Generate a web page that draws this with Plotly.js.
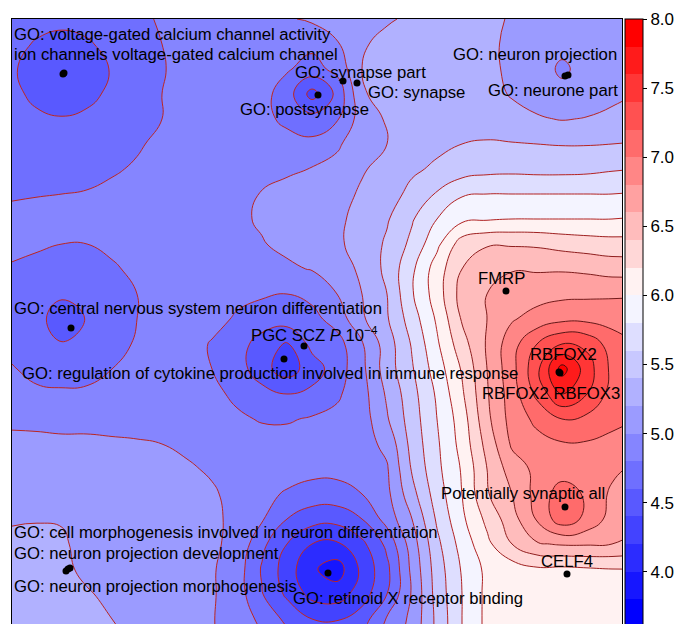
<!DOCTYPE html>
<html><head><meta charset="utf-8">
<script src="https://cdn.plot.ly/plotly-3.0.1.min.js"></script>
<style>html,body{margin:0;padding:0;overflow:hidden;background:#fff}#chart{width:680px;height:629px}</style>
</head><body><div id="chart"></div>
<script>
// Grid sample positions (embedding coordinates)
const gridX = [12,37,62,87,112,137,162,187,212,237,262,287,312,337,362,387,412,437,462,487,512,537,562,587,612,637];
const gridY = [19,44,69,94,119,144,169,194,219,244,269,294,319,344,369,394,419,444,469,494,519,544,569,594,619,644];

// Surface values (one row per gridY)
const zGrid = [
 [4.72,4.67,4.64,4.66,4.70,4.76,4.82,4.87,4.90,4.92,4.95,4.98,5.03,5.10,5.15,5.18,5.23,5.27,5.30,5.25,5.18,5.13,5.10,5.12,5.17,5.22],
 [4.66,4.58,4.55,4.58,4.65,4.72,4.80,4.85,4.88,4.90,4.93,4.90,4.85,4.98,5.18,5.25,5.30,5.32,5.33,5.25,5.15,5.08,5.05,5.05,5.12,5.20],
 [4.62,4.53,4.46,4.53,4.61,4.70,4.79,4.85,4.88,4.90,4.90,4.82,4.72,4.86,5.20,5.28,5.32,5.35,5.35,5.26,5.15,5.08,4.97,5.06,5.13,5.20],
 [4.64,4.56,4.52,4.56,4.63,4.71,4.80,4.86,4.88,4.88,4.87,4.70,4.32,4.65,5.18,5.27,5.32,5.35,5.36,5.28,5.18,5.12,5.05,5.10,5.15,5.22],
 [4.69,4.63,4.61,4.63,4.68,4.74,4.80,4.86,4.88,4.88,4.86,4.75,4.68,4.78,5.10,5.22,5.30,5.34,5.36,5.35,5.28,5.22,5.19,5.21,5.25,5.30],
 [4.72,4.70,4.69,4.70,4.73,4.78,4.84,4.88,4.90,4.90,4.90,4.88,4.85,4.97,5.12,5.20,5.30,5.36,5.40,5.41,5.41,5.40,5.39,5.39,5.40,5.41],
 [4.76,4.75,4.74,4.75,4.78,4.82,4.86,4.90,4.90,4.92,4.93,4.96,5.01,5.06,5.18,5.27,5.37,5.43,5.50,5.54,5.55,5.54,5.54,5.55,5.58,5.60],
 [4.78,4.79,4.80,4.81,4.84,4.86,4.88,4.90,4.92,4.95,5.01,5.08,5.10,5.12,5.23,5.32,5.45,5.62,5.78,5.80,5.80,5.80,5.80,5.80,5.80,5.82],
 [4.85,4.87,4.87,4.88,4.90,4.92,4.93,4.94,4.95,4.97,5.02,5.10,5.14,5.17,5.25,5.38,5.58,5.80,5.95,5.98,6.00,6.00,6.00,6.00,6.00,6.02],
 [4.85,4.83,4.80,4.80,4.85,4.88,4.90,4.92,4.93,4.95,4.99,5.04,5.12,5.17,5.27,5.43,5.65,5.95,6.30,6.38,6.38,6.37,6.33,6.30,6.28,6.28],
 [4.78,4.74,4.72,4.73,4.77,4.85,4.88,4.90,4.90,4.92,4.95,4.97,5.01,5.10,5.24,5.45,5.76,6.10,6.40,6.55,6.58,6.58,6.58,6.56,6.52,6.52],
 [4.72,4.66,4.63,4.64,4.70,4.80,4.86,4.88,4.88,4.86,4.82,4.80,4.85,5.00,5.20,5.40,5.78,6.10,6.48,6.60,6.75,6.72,6.75,6.76,6.77,6.78],
 [4.72,4.66,4.50,4.61,4.69,4.80,4.86,4.88,4.88,4.77,4.72,4.70,4.74,4.88,5.17,5.38,5.70,6.03,6.42,6.60,6.78,6.88,6.95,6.95,6.93,6.92],
 [4.72,4.67,4.61,4.64,4.70,4.83,4.88,4.90,4.78,4.70,4.50,4.38,4.66,4.72,4.98,5.30,5.62,5.97,6.32,6.62,6.92,7.20,7.40,7.35,7.10,7.00],
 [4.82,4.72,4.68,4.70,4.80,4.87,4.90,4.90,4.80,4.70,4.47,4.30,4.50,4.70,4.95,5.30,5.58,5.90,6.22,6.60,6.93,7.35,7.88,7.50,7.15,7.05],
 [4.86,4.85,4.84,4.85,4.88,4.90,4.92,4.92,4.86,4.75,4.68,4.60,4.65,4.77,4.92,5.23,5.53,5.83,6.17,6.58,6.90,7.25,7.60,7.40,7.12,7.05],
 [4.96,4.95,4.94,4.94,4.93,4.92,4.90,4.90,4.88,4.84,4.78,4.78,4.82,4.85,4.90,5.18,5.50,5.80,6.10,6.55,6.88,7.05,7.20,7.15,7.05,7.00],
 [5.05,5.05,5.04,5.04,5.03,5.02,5.00,4.97,4.94,4.92,4.90,4.88,4.87,4.88,4.92,5.05,5.47,5.77,6.07,6.47,6.83,6.93,6.98,6.98,6.95,6.93],
 [5.08,5.08,5.08,5.08,5.07,5.06,5.04,5.02,4.98,4.93,4.90,4.88,4.86,4.86,4.90,4.98,5.42,5.75,6.02,6.40,6.70,6.85,6.90,6.95,6.85,6.75],
 [5.10,5.10,5.12,5.10,5.10,5.09,5.08,5.06,5.02,4.95,4.85,4.78,4.72,4.72,4.80,4.95,5.33,5.70,6.00,6.38,6.60,6.87,7.10,6.97,6.76,6.70],
 [5.18,5.19,5.19,5.15,5.12,5.10,5.10,5.08,5.04,4.95,4.82,4.60,4.48,4.47,4.60,4.88,5.20,5.63,5.96,6.25,6.52,6.82,7.12,6.95,6.72,6.65],
 [5.25,5.25,5.22,5.15,5.12,5.10,5.10,5.08,5.03,4.95,4.65,4.40,4.20,4.17,4.35,4.65,5.10,5.55,5.88,6.15,6.40,6.58,6.62,6.62,6.60,6.55],
 [5.30,5.30,5.25,5.15,5.12,5.10,5.10,5.08,5.02,4.90,4.58,4.30,4.03,3.90,4.25,4.55,5.05,5.50,5.82,6.05,6.10,6.17,6.16,6.18,6.20,6.20],
 [5.32,5.32,5.30,5.22,5.15,5.12,5.10,5.08,5.02,4.90,4.61,4.36,4.13,4.10,4.30,4.60,5.02,5.48,5.80,6.05,6.10,6.12,6.12,6.12,6.15,6.15],
 [5.35,5.35,5.33,5.28,5.20,5.14,5.10,5.08,5.01,4.92,4.75,4.55,4.40,4.38,4.50,4.82,5.05,5.45,5.80,6.05,6.10,6.10,6.10,6.10,6.12,6.12],
 [5.38,5.38,5.36,5.32,5.25,5.18,5.12,5.08,5.01,4.94,4.85,4.72,4.62,4.60,4.68,4.88,5.08,5.45,5.80,6.05,6.10,6.10,6.10,6.10,6.12,6.12]
];

// Labelled points
const pointLabels = [
 "GO: voltage-gated calcium channel activity",
 "ion channels voltage-gated calcium channel",
 "GO: synapse part",
 "GO: synapse",
 "GO: postsynapse",
 "GO: neuron projection",
 "GO: neurone part",
 "FMRP",
 "GO: central nervous system neuron differentiation",
 "PGC SCZ <i>P</i> 10<sup>\u22124</sup>",
 "GO: regulation of cytokine production involved in immune response",
 "RBFOX2",
 "RBFOX2 RBFOX3",
 "Potentially synaptic all",
 "CELF4",
 "GO: cell morphogenesis involved in neuron differentiation",
 "GO: neuron projection development",
 "GO: neuron projection morphogenesis",
 "GO: retinoid X receptor binding"
];
const pointX = [63,64,343,357,318,565,568,506,71,304,284,559,560,565,567,66,68,70,328];
const pointY = [74,73,81,83,95,76,75,291,328,346,359,372,373,507,574,571,569,568,573];

// Colour bar: value range and ticks
const cbMin = 3.6, cbMax = 8.0;
const cbTicks = [4.0,4.5,5.0,5.5,6.0,6.5,7.0,7.5,8.0];

// Layout-only: where each label's text starts (left edge, vertical centre)
const labelAnchorX = [14,14,295,368,240,453,488,478,14,251,22,530,482,441,541,14,14,14,293];
const labelAnchorY = [34,54,72,92,109,54,90,278,308,334,373,354,393,493,561,532,553,586,598];

const FONT = "'Liberation Sans', Arial, Helvetica, sans-serif";

// Styling: blue -> white -> red, with pure blue at 3.7, white at 6.0, pure red at 7.9
function bandColor(v) {
  let r, g, b;
  if (v <= 6.0) { const t = Math.max(0, Math.min(1, (v - 3.7) / 2.3)); r = g = Math.round(255 * t); b = 255; }
  else { const t = Math.max(0, Math.min(1, (7.9 - v) / 1.9)); r = 255; g = b = Math.round(255 * t); }
  return 'rgb(' + r + ',' + g + ',' + b + ')';
}
const STEP = 0.2;
const nBands = Math.round((cbMax - cbMin) / STEP);
const steppedScale = [];
for (let k = 0; k < nBands; k++) {
  const c = bandColor(cbMin + STEP * k + STEP / 2);
  steppedScale.push([k / nBands, c], [(k + 1) / nBands, c]);
}

const contourDef = {start: 3.8, end: 7.8, size: STEP};

const fillTrace = {
  type: 'contour', x: gridX, y: gridY, z: zGrid,
  autocontour: false,
  contours: Object.assign({coloring: 'fill', showlines: false}, contourDef),
  line: {width: 0, smoothing: 1.3},
  colorscale: [[0, 'rgb(0,0,255)'], [0.547619, 'rgb(255,255,255)'], [1, 'rgb(255,0,0)']],
  showscale: false,
  hoverinfo: 'skip'
};

const lineTrace = {
  type: 'contour', x: gridX, y: gridY, z: zGrid,
  autocontour: false,
  contours: Object.assign({coloring: 'lines', showlines: true}, contourDef),
  line: {width: 1, smoothing: 1.3},
  colorscale: [[0, '#c62a1e'], [0.55, '#b02222'], [0.7, '#7e1c1c'], [0.85, '#561616'], [1, '#401010']],
  showscale: false,
  hoverinfo: 'skip'
};

const pointTrace = {
  type: 'scatter', mode: 'markers', x: pointX, y: pointY,
  marker: {color: '#000', size: 7},
  hoverinfo: 'skip'
};

// Colour key only (placed outside the visible axis range)
const keyTrace = {
  type: 'heatmap', x: [5000, 5001], y: [5000], z: [[cbMin, cbMax]],
  zmin: cbMin, zmax: cbMax, colorscale: steppedScale, hoverinfo: 'skip',
  colorbar: {
    x: 1.0049, xanchor: 'left', xpad: 0,
    y: 0.5, yanchor: 'middle', len: 1, lenmode: 'fraction', ypad: 0,
    thickness: 18, outlinewidth: 1, outlinecolor: '#000',
    ticks: 'outside', ticklen: 4, tickwidth: 1, tickcolor: '#000',
    tickmode: 'array', tickvals: cbTicks, ticktext: cbTicks.map(v => v.toFixed(1)),
    tickfont: {family: FONT, size: 17, color: '#000'}
  }
};

const annotations = pointLabels.map((t, i) => ({
  x: labelAnchorX[i], y: labelAnchorY[i], xref: 'x', yref: 'y',
  text: t, showarrow: false, xanchor: 'left', yanchor: 'middle',
  borderpad: 0, borderwidth: 0,
  font: {family: FONT, size: 16.7, color: '#000'}
}));

const axisBase = {showgrid: false, zeroline: false, showticklabels: false, ticks: '',
  showline: true, mirror: true, linecolor: '#000', linewidth: 1, autorange: false};

const layout = {
  width: 680, height: 629,
  margin: {l: 12, r: 58, t: 19, b: 2, pad: 0},
  paper_bgcolor: '#fff', plot_bgcolor: '#fff',
  showlegend: false,
  xaxis: Object.assign({range: [12, 622]}, axisBase),
  yaxis: Object.assign({range: [627, 19]}, axisBase),
  annotations: annotations
};

Plotly.newPlot('chart', [keyTrace, fillTrace, lineTrace, pointTrace], layout, {displayModeBar: false, staticPlot: true});
</script>
</body></html>
